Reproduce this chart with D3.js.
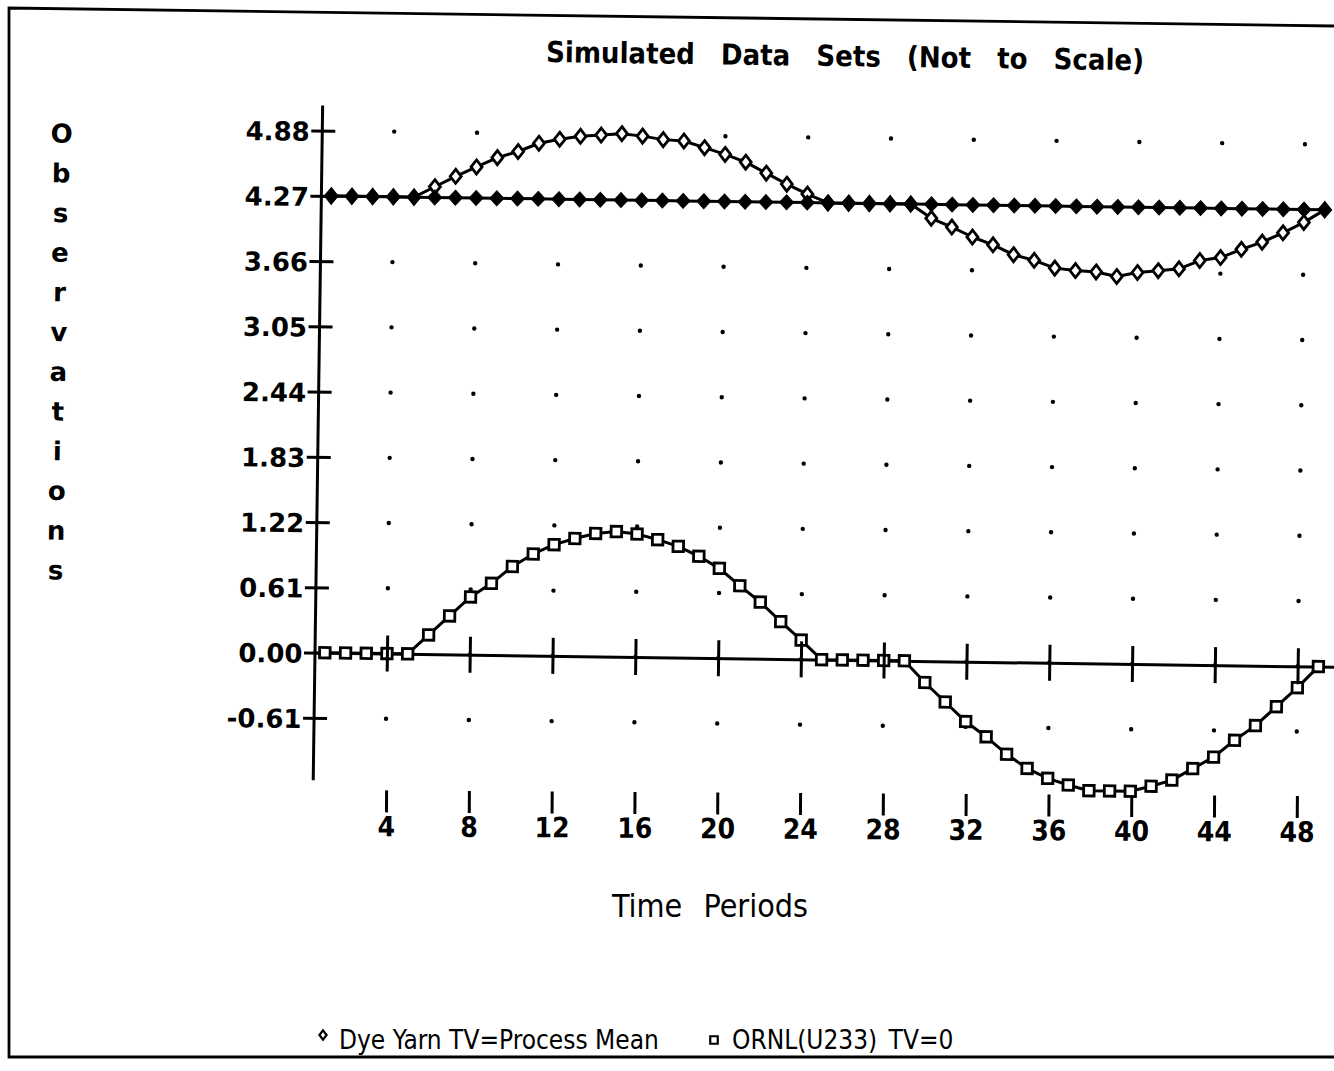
<!DOCTYPE html>
<html><head><meta charset="utf-8">
<script src="https://cdn.jsdelivr.net/npm/d3@7"></script>
<style>
html,body{margin:0;padding:0;background:#fff;}
svg{display:block;}
.cond{font-family:"DejaVu Sans Condensed","DejaVu Sans",sans-serif;font-stretch:condensed;}
.wide{font-family:"DejaVu Sans",sans-serif;}
</style></head><body>
<svg id="chart" width="1334" height="1071"></svg>
<script>
// ---------- data ----------
const periods = [1,2,3,4,5,6,7,8,9,10,11,12,13,14,15,16,17,18,19,20,21,22,23,24,25,26,27,28,29,30,31,32,33,34,35,36,37,38,39,40,41,42,43,44,45,46,47,48,49];
const dyeYarn = [4.27,4.27,4.27,4.27,4.27, 4.37,4.47,4.56,4.65,4.71, 4.79,4.83,4.86,4.875,4.89, 4.87,4.84,4.83,4.77,4.71, 4.64,4.54,4.44,4.35,4.27, 4.27,4.27,4.27,4.27,4.14, 4.06,3.97,3.90,3.81,3.76, 3.69,3.67,3.66,3.62,3.66, 3.68,3.70,3.78,3.81,3.89, 3.96,4.05,4.15,4.27];
const processMean = [4.27,4.27,4.27,4.27,4.27,4.27,4.27,4.27,4.27,4.27,4.27,4.27,4.27,4.27,4.27,4.27,4.27,4.27,4.27,4.27,4.27,4.27,4.27,4.27,4.27,4.27,4.27,4.27,4.27,4.27,4.27,4.27,4.27,4.27,4.27,4.27,4.27,4.27,4.27,4.27,4.27,4.27,4.27,4.27,4.27,4.27,4.27,4.27,4.27];
const ornl = [0,0,0,0,0, 0.18,0.36,0.54,0.67,0.83, 0.95,1.04,1.10,1.15,1.17, 1.15,1.10,1.04,0.95,0.84, 0.68,0.53,0.35,0.18,0, 0,0,0,0,-0.20, -0.38,-0.56,-0.70,-0.86,-0.99, -1.08,-1.14,-1.19,-1.19,-1.19, -1.14,-1.08,-0.97,-0.86,-0.70, -0.56,-0.38,-0.20,0];
const yTickValues = [-0.61,0,0.61,1.22,1.83,2.44,3.05,3.66,4.27,4.88];
const yTickLabels = ["-0.61","0.00","0.61","1.22","1.83","2.44","3.05","3.66","4.27","4.88"];
const xTickValues = [4,8,12,16,20,24,28,32,36,40,44,48];
const xTickLabels = ["4","8","12","16","20","24","28","32","36","40","44","48"];
const titleText = "Simulated Data Sets (Not to Scale)";
const xTitleText = "Time Periods";
const yTitleText = "Observations";
const legendLabels = ["Dye Yarn TV=Process Mean","ORNL(U233) TV=0"];

// ---------- scales ----------
const svg = d3.select("#chart");
const x = d3.scaleLinear().domain([0.5, 50.5]).range([314.5, 314.5 + 50*20.7]);
const y = d3.scaleLinear().domain([-1.19, 5.12]).range([780, 105]);
const cx = x(1), cy = y(0);
const STROKE = 3;

// custom marker shapes
const diamondType = (hw, hh) => ({ draw(ctx){ ctx.moveTo(0,-hh); ctx.lineTo(hw,0); ctx.lineTo(0,hh); ctx.lineTo(-hw,0); ctx.closePath(); } });
const squareType = (s) => ({ draw(ctx){ ctx.rect(-s/2,-s/2,s,s); } });

// ---------- frame ----------
svg.append("path")
  .attr("d", "M1334,26 L9,8 L9,1057 L1334,1057")
  .attr("fill","none").attr("stroke","#000").attr("stroke-width",2.8);

// ---------- plot (scan is slightly tilted) ----------
const g = svg.append("g").attr("transform", `rotate(0.8,${cx},${cy})`);

// grid dots
const dotData = [];
xTickValues.forEach(xv => yTickValues.forEach(yv => dotData.push([xv,yv])));
g.append("g").selectAll("circle").data(dotData).join("circle")
  .attr("cx", d => x(d[0])).attr("cy", d => y(d[1])).attr("r", 2.2).attr("fill","#000");

// zero axis (domain line under data)
const xZeroAxis = d3.axisBottom(x).tickValues(xTickValues).tickFormat("").tickSizeOuter(0);
const zg = g.append("g").attr("transform", `translate(0,${y(0)})`).call(xZeroAxis);
zg.selectAll(".tick").remove();
zg.select(".domain").attr("stroke","#000").attr("stroke-width",STROKE);

// y axis
const yAxis = d3.axisLeft(y).tickValues(yTickValues).tickFormat((d,i)=>yTickLabels[i])
  .tickSizeInner(10.5).tickSizeOuter(0).tickPadding(1.5);
const yg = g.append("g").attr("transform", `translate(${x(0.5)},0)`).call(yAxis);
yg.select(".domain").attr("stroke","#000").attr("stroke-width",STROKE);
yg.selectAll(".tick line").attr("x1",-10.5).attr("x2",13.5).attr("stroke","#000").attr("stroke-width",STROKE);
yg.selectAll(".tick text").attr("class","wide").attr("font-size",26).attr("font-weight","bold")
  .attr("fill","#000").attr("dy","0.38em").style("font-family","'DejaVu Sans',sans-serif");

// series
const line = (vals) => d3.line().x((d,i)=>x(periods[i])).y(d=>y(d))(vals);
function series(vals, shape, fill){
  const sg = g.append("g");
  sg.append("path").attr("d", line(vals)).attr("fill","none").attr("stroke","#000").attr("stroke-width",STROKE).attr("stroke-linejoin","round");
  sg.selectAll("path.m").data(vals).join("path").attr("class","m")
    .attr("d", d3.symbol(shape))
    .attr("transform",(d,i)=>`translate(${x(periods[i])},${y(d)})`)
    .attr("fill",fill).attr("stroke","#000").attr("stroke-width", fill==="#000" ? 1 : 2.8);
}
series(dyeYarn, diamondType(5.5,7), "#fff");
series(processMean, diamondType(7,7.5), "#000");
series(ornl, squareType(10.5), "#fff");

// zero-axis crossing ticks on top
const tg = g.append("g").attr("transform", `translate(0,${y(0)})`).call(xZeroAxis);
tg.select(".domain").remove();
tg.selectAll(".tick line").attr("y1",-18).attr("y2",18).attr("stroke","#000").attr("stroke-width",STROKE);
tg.selectAll(".tick text").remove();

// title
g.append("text").attr("class","cond")
  .attr("x", 836.7).attr("y", 59).attr("text-anchor","middle")
  .attr("font-size",29).attr("font-weight","bold").attr("word-spacing",17)
  .text(titleText);

// vertical y title
const yt = g.append("text").attr("class","wide").attr("text-anchor","middle")
  .attr("font-size",26).attr("font-weight","bold");
yt.selectAll("tspan").data(yTitleText.split("")).join("tspan")
  .attr("x",54.5).attr("y",(d,i)=>137 + i*39.7).attr("dy","0.36em").text(d=>d);

// ---------- bottom tick marks & labels (smaller tilt) ----------
const g2 = svg.append("g").attr("transform", `rotate(0.35,${cx},${cy})`);
const xAxisB = d3.axisBottom(x).tickValues(xTickValues).tickFormat((d,i)=>xTickLabels[i])
  .tickSizeInner(22).tickSizeOuter(0).tickPadding(4);
const bg = g2.append("g").attr("transform","translate(0,790)").call(xAxisB);
bg.select(".domain").remove();
bg.selectAll(".tick line").attr("stroke","#000").attr("stroke-width",STROKE);
bg.selectAll(".tick text").attr("class","cond").attr("font-size",28).attr("font-weight","bold")
  .attr("fill","#000").style("font-family","'DejaVu Sans Condensed','DejaVu Sans',sans-serif");

// x title
svg.append("text").attr("class","cond").attr("x",710).attr("y",917).attr("text-anchor","middle")
  .attr("font-size",32).attr("word-spacing",12).style("font-weight","500").text(xTitleText);

// ---------- legend ----------
const lg = svg.append("g");
lg.append("path").attr("d", d3.symbol(diamondType(3.6,4.6))).attr("transform","translate(323,1035)")
  .attr("fill","#fff").attr("stroke","#000").attr("stroke-width",2.2);
lg.append("text").attr("class","cond").attr("x",339).attr("y",1049).attr("font-size",26).text(legendLabels[0]);
lg.append("path").attr("d", d3.symbol(squareType(7.5))).attr("transform","translate(714,1040)")
  .attr("fill","#fff").attr("stroke","#000").attr("stroke-width",2.2);
lg.append("text").attr("class","cond").attr("x",732).attr("y",1049).attr("font-size",26).attr("word-spacing",4).text(legendLabels[1]);
</script>
</body></html>
